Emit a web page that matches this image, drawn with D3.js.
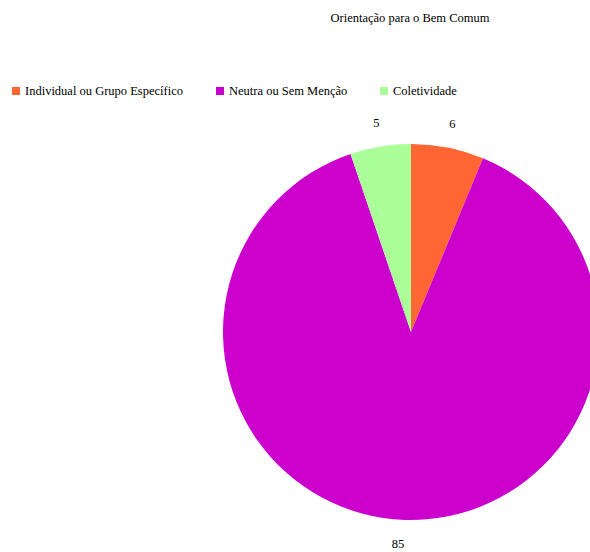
<!DOCTYPE html>
<html>
<head>
<meta charset="utf-8">
<script src="https://cdn.jsdelivr.net/npm/d3@7"></script>
<style>
  body { margin: 0; background: #fff; }
</style>
</head>
<body>
<div id="container"></div>
<script>
/* CONSTANTS AND GLOBALS */
const width = 590,
  height = 552,
  radius = 188,
  cx = 411,
  cy = 332,
  font = "'Liberation Serif', 'DejaVu Serif', 'Times New Roman', serif";

// chart data
const categories = ["Individual ou Grupo Específico", "Neutra ou Sem Menção", "Coletividade"];
const values = [6, 85, 5];
const colors = ["#ff6633", "#cc00cc", "#aaff99"];
const title = "Orientação para o Bem Comum";

const svg = d3.select("#container")
  .append("svg")
  .attr("width", width)
  .attr("height", height)
  .attr("font-family", font);

// title
svg.append("text")
  .attr("x", 410)
  .attr("y", 22)
  .attr("text-anchor", "middle")
  .attr("font-size", 12.5)
  .text(title);

// legend
const legendX = [12, 216, 380];
const legend = svg.selectAll(".legend")
  .data(categories)
  .join("g")
  .attr("class", "legend")
  .attr("transform", (d, i) => `translate(${legendX[i]}, 91)`);

legend.append("rect")
  .attr("x", 0)
  .attr("y", -4)
  .attr("width", 8)
  .attr("height", 8)
  .attr("fill", (d, i) => colors[i]);

legend.append("text")
  .attr("x", 13)
  .attr("y", 4)
  .attr("font-size", 12.5)
  .text(d => d);

// pie
const pie = d3.pie().sort(null).value(d => d);
const arcs = pie(values);
const arcGen = d3.arc().innerRadius(0).outerRadius(radius);
const labelArc = d3.arc().innerRadius(212).outerRadius(212);

const g = svg.append("g")
  .attr("transform", `translate(${cx}, ${cy})`);

g.selectAll(".slice")
  .data(arcs)
  .join("path")
  .attr("class", "slice")
  .attr("d", arcGen)
  .attr("fill", (d, i) => colors[i]);

g.selectAll(".label")
  .data(arcs)
  .join("text")
  .attr("class", "label")
  .attr("transform", d => `translate(${labelArc.centroid(d)})`)
  .attr("dx", (d, i) => i === 1 ? -6 : 0)
  .attr("text-anchor", "middle")
  .attr("dy", "0.35em")
  .attr("font-size", 12.5)
  .text(d => d.data);
</script>
</body>
</html>
